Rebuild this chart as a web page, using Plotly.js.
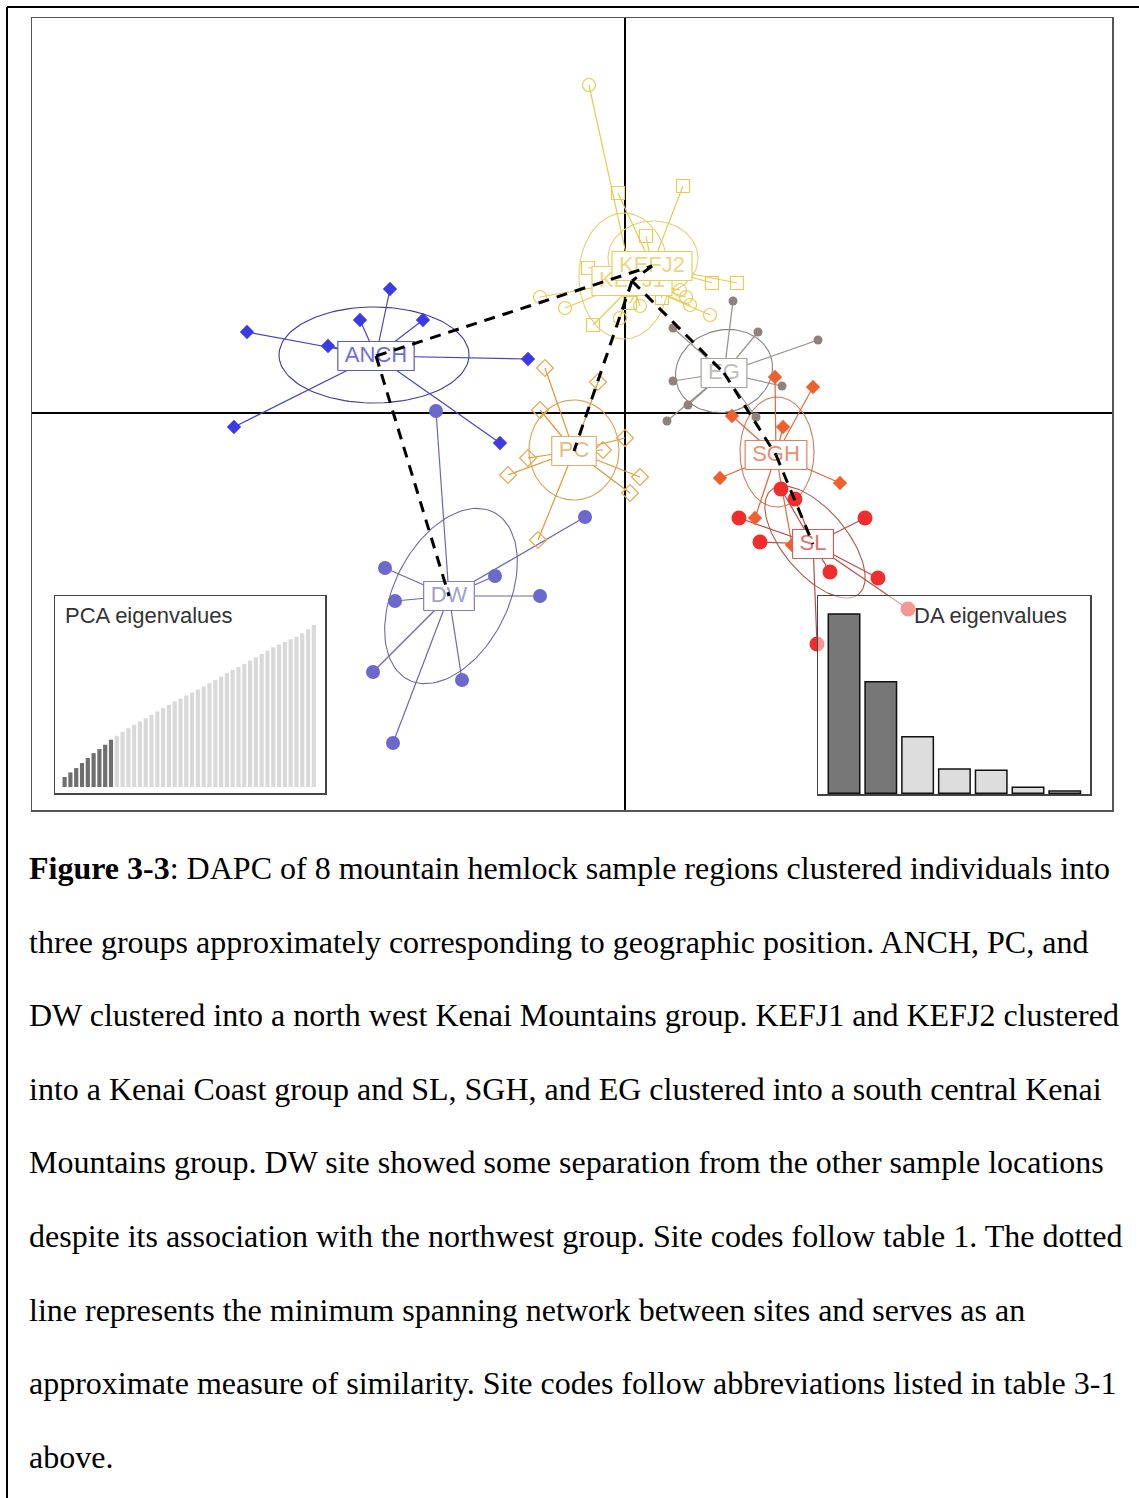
<!DOCTYPE html>
<html><head><meta charset="utf-8">
<script src="https://cdn.plot.ly/plotly-3.0.1.min.js"></script>
<style>html,body{margin:0;padding:0;background:#fff}#chart{width:1139px;height:1498px}</style>
</head><body><div id="chart"></div>
<script>
// ================= DATA =================
const groups = ['ANCH','DW','PC','KEFJ1','KEFJ2','EG','SGH','SL'];

const ANCH_x = [-3.78,-2.97,-2.65,-2.35,-2.02,-0.97,-3.91,-1.25];
const ANCH_y = [0.81,0.67,0.93,1.24,0.93,0.54,-0.14,-0.30];
const DW_x = [-1.89,-2.40,-2.30,-1.30,-0.85,-2.52,-1.63,-2.32,-0.40];
const DW_y = [0.02,-1.55,-1.88,-1.63,-1.83,-2.59,-2.67,-3.30,-1.04];
const PC_x = [-0.80,-0.27,-0.85,0.00,-0.22,-0.97,-1.17,0.15,0.05,-0.87];
const PC_y = [0.45,0.31,0.03,-0.25,-0.37,-0.45,-0.62,-0.64,-0.80,-1.27];
const KEFJ1_x = [-0.36,-0.85,-0.60,0.85,0.55,0.61,0.65,0.15,-0.05];
const KEFJ1_y = [3.28,1.16,1.05,0.98,1.23,1.16,1.08,1.07,0.95];
const KEFJ2_x = [-0.07,0.58,0.21,-0.37,0.87,1.12,-0.32,0.37,0.05];
const KEFJ2_y = [2.20,2.27,1.77,1.45,1.30,1.30,0.88,1.15,1.10];
const EG_x = [1.08,1.33,1.93,0.48,0.48,1.57,0.63,0.42,1.31];
const EG_y = [1.12,0.81,0.73,0.85,0.32,0.27,0.08,-0.08,-0.04];
const SGH_x = [1.88,1.50,1.07,1.58,0.95,2.15,1.30,1.67];
const SGH_y = [0.26,0.36,-0.03,-0.14,-0.65,-0.70,-1.05,-1.32];
const SL_x = [1.56,1.70,1.14,2.40,1.35,2.05,2.53,2.83,1.92];
const SL_y = [-0.76,-0.86,-1.05,-1.05,-1.29,-1.59,-1.65,-1.96,-2.31];

const centroid_x = [-2.49,-1.76,-0.51,0.07,0.27,0.99,1.51,1.88];
const centroid_y = [0.57,-1.83,-0.38,1.32,1.47,0.40,-0.42,-1.31];

const ellipse_cx = [-2.51,-1.74,-0.51,-0.01,0.28,0.99,1.52,1.90];
const ellipse_cy = [0.58,-1.83,-0.37,1.37,1.55,0.42,-0.39,-1.29];
const ellipse_a = [0.95,0.94,0.45,0.45,0.45,0.49,0.37,0.68];
const ellipse_b = [0.48,0.57,0.50,0.63,0.37,0.41,0.55,0.32];
const ellipse_angle = [0,63,0,0,0,15,0,-50];

const mst_from = ['ANCH','KEFJ2','KEFJ1','KEFJ1','EG','SGH','ANCH'];
const mst_to   = ['KEFJ2','KEFJ1','PC','EG','SGH','SL','DW'];

const pca_eigen = [6.2,9.0,11.7,14.8,17.9,20.9,23.4,26.1,29.2,31.6,34.1,36.3,38.4,40.5,42.5,44.6,46.6,48.7,50.7,52.8,54.6,56.5,58.3,60.2,62.0,64.1,66.1,68.2,70.2,72.3,74.1,76.0,78.0,80.1,82.1,84.2,86.2,87.9,89.5,91.2,92.8,94.9,97.3,100.0];
const pca_retained = 9;
const da_eigen = [53.8,33.5,17.0,7.3,6.9,1.8,0.7];
const da_retained = 2;

const caption_lines = [
  '<b>Figure 3-3</b>: DAPC of 8 mountain hemlock sample regions clustered individuals into',
  'three groups approximately corresponding to geographic position. ANCH, PC, and',
  'DW clustered into a north west Kenai Mountains group. KEFJ1 and KEFJ2 clustered',
  'into a Kenai Coast group and SL, SGH, and EG clustered into a south central Kenai',
  'Mountains group. DW site showed some separation from the other sample locations',
  'despite its association with the northwest group. Site codes follow table 1. The dotted',
  'line represents the minimum spanning network between sites and serves as an',
  'approximate measure of similarity. Site codes follow abbreviations listed in table 3-1',
  'above.'
];

// ================= STYLE =================
const W = 1139, H = 1498;
const groupPts = {ANCH:[ANCH_x,ANCH_y],DW:[DW_x,DW_y],PC:[PC_x,PC_y],KEFJ1:[KEFJ1_x,KEFJ1_y],
  KEFJ2:[KEFJ2_x,KEFJ2_y],EG:[EG_x,EG_y],SGH:[SGH_x,SGH_y],SL:[SL_x,SL_y]};
const style = {
  ANCH: {pt:'#3a3ae6', ln:'#4646c0', el:'#3c3c96', tx:'#6e6ee0', bd:'#5a5ac8', sym:'diamond', sz:11},
  DW:   {pt:'#6c68cc', ln:'#6868b4', el:'#6c6c9c', tx:'#a0a0d0', bd:'#8080b8', sym:'circle', sz:14},
  PC:   {pt:'#e6a850', ln:'#dc9838', el:'#dca050', tx:'#e6bb80', bd:'#e0b070', sym:'diamond-open', sz:13},
  KEFJ1:{pt:'#e6cc55', ln:'#e6cc50', el:'#e6d070', tx:'#ecd680', bd:'#e6cf60', sym:'circle-open', sz:13},
  KEFJ2:{pt:'#e6cc55', ln:'#e6cc50', el:'#e6d070', tx:'#ecd680', bd:'#e6cf60', sym:'square-open', sz:13},
  EG:   {pt:'#8f827e', ln:'#9a908c', el:'#8c8280', tx:'#c4bcb8', bd:'#a8a09c', sym:'circle', sz:9},
  SGH:  {pt:'#f0602c', ln:'#e0683c', el:'#d87a5a', tx:'#e89070', bd:'#e08060', sym:'diamond', sz:11},
  SL:   {pt:'#f02c2c', ln:'#c04848', el:'#b05848', tx:'#e07070', bd:'#d06060', sym:'circle', sz:15}
};
const PX_PER_UNIT = 100;
const labelFont = 22;

const cv = document.createElement('canvas').getContext('2d');
cv.font = labelFont + 'px "Liberation Sans", Arial, sans-serif';

function ellipsePath(cx, cy, a, b, angDeg) {
  const t = angDeg * Math.PI / 180, xs = [], ys = [];
  for (let k = 0; k <= 120; k++) {
    const u = 2 * Math.PI * k / 120;
    const ex = a * Math.cos(u), ey = b * Math.sin(u);
    xs.push(cx + ex * Math.cos(t) - ey * Math.sin(t));
    ys.push(cy + ex * Math.sin(t) + ey * Math.cos(t));
  }
  return [xs, ys];
}

const traces = [];
// ellipses
groups.forEach((g, i) => {
  const [xs, ys] = ellipsePath(ellipse_cx[i], ellipse_cy[i], ellipse_a[i], ellipse_b[i], ellipse_angle[i]);
  traces.push({x: xs, y: ys, mode: 'lines', line: {color: style[g].el, width: 1.1}, hoverinfo: 'skip'});
});
// star lines
groups.forEach((g, i) => {
  const [px, py] = groupPts[g]; const xs = [], ys = [];
  px.forEach((v, k) => { xs.push(centroid_x[i], v, null); ys.push(centroid_y[i], py[k], null); });
  traces.push({x: xs, y: ys, mode: 'lines', line: {color: style[g].ln, width: 1.2}, hoverinfo: 'skip'});
});
// points
groups.forEach(g => {
  const [px, py] = groupPts[g], s = style[g];
  traces.push({x: px, y: py, mode: 'markers',
    marker: {symbol: s.sym, size: s.sz, color: s.pt, line: {color: s.pt, width: s.sym.indexOf('open') >= 0 ? 1.2 : 0}}});
});
// labels (box + text)
groups.forEach((g, i) => {
  const s = style[g];
  const hw = (cv.measureText(g).width + 14) / 2 / PX_PER_UNIT, hh = 14.5 / PX_PER_UNIT;
  const cx = centroid_x[i], cy = centroid_y[i];
  traces.push({x: [cx-hw, cx+hw, cx+hw, cx-hw, cx-hw], y: [cy-hh, cy-hh, cy+hh, cy+hh, cy-hh],
    mode: 'lines', fill: 'toself', fillcolor: '#ffffff', line: {color: s.bd, width: 1.2}, hoverinfo: 'skip'});
  traces.push({x: [cx], y: [cy], mode: 'text', text: [g], textposition: 'middle center',
    textfont: {family: 'Liberation Sans, Arial, sans-serif', size: labelFont, color: s.tx}, hoverinfo: 'skip'});
});
// minimum spanning network
{
  const xs = [], ys = [];
  mst_from.forEach((f, k) => {
    const a = groups.indexOf(f), b = groups.indexOf(mst_to[k]);
    xs.push(centroid_x[a], centroid_x[b], null); ys.push(centroid_y[a], centroid_y[b], null);
  });
  traces.push({x: xs, y: ys, mode: 'lines', line: {color: '#000', width: 3, dash: '11px,8px'}, hoverinfo: 'skip'});
}
// inset bars
traces.push({type: 'bar', x: pca_eigen.map((_, i) => i + 1), y: pca_eigen, xaxis: 'x2', yaxis: 'y2', width: 0.72,
  marker: {color: pca_eigen.map((_, i) => i < pca_retained ? '#6e6e6e' : '#d9d9d9'), line: {width: 0}}});
traces.push({type: 'bar', x: da_eigen.map((_, i) => i + 1), y: da_eigen, xaxis: 'x3', yaxis: 'y3', width: 0.855,
  marker: {color: da_eigen.map((_, i) => i < da_retained ? '#777777' : '#dddddd'), line: {color: '#111', width: 1.5}}});

const px2x = p => p / W, py2y = p => 1 - p / H;
const hidden = {showgrid: false, showticklabels: false, ticks: '', zeroline: false};

const annotations = caption_lines.map((t, i) => ({
  xref: 'paper', yref: 'paper', x: px2x(27), y: py2y(868 + i * 73.6), xanchor: 'left', yanchor: 'middle',
  text: t, showarrow: false, align: 'left',
  font: {family: 'Liberation Serif, Times New Roman, serif', size: 32, color: '#000'}
}));
annotations.push({xref: 'paper', yref: 'paper', x: px2x(63), y: py2y(615), xanchor: 'left', yanchor: 'middle',
  text: 'PCA eigenvalues', showarrow: false, font: {family: 'Liberation Sans, Arial, sans-serif', size: 22, color: '#333'}});
annotations.push({xref: 'paper', yref: 'paper', x: px2x(912), y: py2y(615), xanchor: 'left', yanchor: 'middle',
  text: 'DA eigenvalues', showarrow: false, font: {family: 'Liberation Sans, Arial, sans-serif', size: 22, color: '#333'}});

const layout = {
  width: W, height: H, margin: {l: 0, r: 0, t: 0, b: 0},
  paper_bgcolor: '#ffffff', plot_bgcolor: 'rgba(255,255,255,0.5)',
  showlegend: false, hovermode: false,
  xaxis: Object.assign({}, hidden, {domain: [px2x(32), px2x(1112)], range: [-5.93, 4.87], zeroline: true,
    zerolinecolor: '#000', zerolinewidth: 1.5, showline: true, mirror: true, linecolor: '#555', linewidth: 1.5}),
  yaxis: Object.assign({}, hidden, {domain: [py2y(810), py2y(18)], range: [-3.97, 3.95], zeroline: true,
    zerolinecolor: '#000', zerolinewidth: 1.5, showline: true, mirror: true, linecolor: '#555', linewidth: 1.5}),
  xaxis2: Object.assign({}, hidden, {domain: [px2x(55), px2x(325)], range: [-0.66, 45.93], anchor: 'y2',
    showline: true, mirror: true, linecolor: '#444', linewidth: 1.5}),
  yaxis2: Object.assign({}, hidden, {domain: [py2y(793), py2y(596)], range: [-3.7, 117.9], anchor: 'x2',
    showline: true, mirror: true, linecolor: '#444', linewidth: 1.5}),
  xaxis3: Object.assign({}, hidden, {domain: [px2x(818), px2x(1090)], range: [0.293, 7.685], anchor: 'y3',
    showline: true, mirror: true, linecolor: '#444', linewidth: 1.5}),
  yaxis3: Object.assign({}, hidden, {domain: [py2y(794), py2y(596)], range: [-0.2, 59.2], anchor: 'x3',
    showline: true, mirror: true, linecolor: '#444', linewidth: 1.5}),
  annotations: annotations,
  shapes: [
    {type: 'line', xref: 'paper', yref: 'paper', x0: px2x(7), x1: 1, y0: py2y(7), y1: py2y(7), line: {color: '#000', width: 2}},
    {type: 'line', xref: 'paper', yref: 'paper', x0: px2x(7), x1: px2x(7), y0: py2y(7), y1: 0, line: {color: '#000', width: 2}}
  ]
};

Plotly.newPlot('chart', traces, layout, {staticPlot: true, displayModeBar: false});
</script></body></html>
